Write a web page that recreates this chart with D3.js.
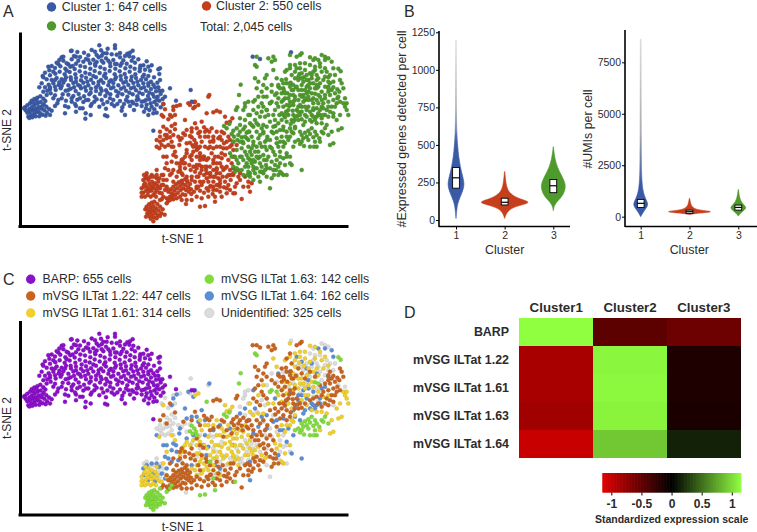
<!DOCTYPE html>
<html>
<head>
<meta charset="utf-8">
<script src="https://cdnjs.cloudflare.com/ajax/libs/d3/7.8.5/d3.min.js"></script>
<style>
  body { margin: 0; background: #fff; }
  text { font-family: "Liberation Sans", Arial, sans-serif; fill: #2b2b2b; }
</style>
</head>
<body>
<svg id="fig" width="757" height="532"></svg>
<script>
const barpC1 = [
  [75,322],[82,316],[90,310],[95,302],[103,297],[112,293],[121,289],[130,296],[136,303],[88,328],[96,321],[104,315],[113,310],[122,306],[131,313],[139,320],[147,327],[155,332],
  [82,338],[90,335],[98,330],[107,326],[116,321],[125,326],[133,331],[141,338],[150,345],[85,350],[93,345],[102,341],[111,336],[120,339],[128,344],[137,347],[118,349],[107,349],[97,352],[88,354],[77,331],[72,325],[100,308],[110,302],[126,319],[114,331],[92,326],[104,334],
  [298,136],[345,136],[323,146],[213,153],[232,156],[252,158],[275,150],[285,155],[398,152],[390,158],[382,161],[360,159],[335,163],[350,164],[310,160],[265,166],[303,151],
  [185,172],[215,178],[240,171],[258,177],[280,179],[296,172],[305,167],[318,175],[290,186],[270,190],[250,185],[228,191],[205,193],[190,182],[175,192],[340,180],[360,172],[370,181],[388,169],[395,182],[405,188],[415,178],[440,184],[380,191],[350,192],[330,189],[310,188],
  [135,218],[148,211],[165,204],[181,199],[196,206],[211,200],[224,207],[241,198],[255,201],[271,206],[286,197],[301,202],[314,207],[331,199],[346,206],[361,197],[376,205],[391,200],[404,206],[421,197],[435,209],[450,212],[475,208],[478,222],
  [150,226],[166,221],[179,215],[194,223],[209,216],[226,223],[239,214],[256,218],[269,222],[284,213],[299,219],[316,221],[329,213],[344,223],[359,214],[374,222],[389,215],[406,223],[419,214],[432,224],[445,228],[462,232],[480,240],[472,248],
  [140,238],[155,240],[170,234],[185,238],[198,232],[213,240],[228,234],[243,241],[258,233],[273,239],[288,232],[303,240],[318,234],[333,241],[348,232],[363,239],[378,233],[393,241],[408,234],[423,240],[438,238],[453,245],[125,250],[118,262],
  [146,254],[160,250],[176,255],[190,248],[205,256],[220,249],[234,255],[250,248],[265,256],[280,249],[295,255],[310,248],[325,256],[340,249],[355,256],[370,248],[385,255],[400,249],[415,256],[430,250],[445,257],[460,254],[475,262],[487,272],
  [130,275],[150,268],[167,270],[182,265],[197,272],[212,266],[227,273],[243,265],[258,272],[273,266],[288,273],[302,265],[318,271],[333,265],[348,273],[363,266],[378,272],[393,265],[408,271],[423,265],[438,272],[453,267],[468,274],[482,282],[495,290],
  [140,285],[165,286],[188,283],[205,284],[220,288],[236,282],[252,289],[268,283],[284,290],[300,282],[316,288],[331,283],[352,288],[367,283],[382,290],[398,283],[412,289],[428,282],[444,288],[458,282],[473,290],[488,297],
  [175,300],[198,302],[215,305],[232,299],[250,306],[265,300],[283,305],[305,300],[322,306],[340,300],[360,303],[378,300],[396,305],[415,298],[432,304],[448,298],[463,306],[478,302],[490,312],
  [165,318],[205,322],[228,318],[248,325],[272,318],[298,320],[318,326],[343,318],[367,322],[390,318],[410,314],[425,318],[440,314],[455,320],[470,314],[482,322],[448,330],[463,328],
  [228,335],[257,340],[272,345],[315,346],[322,349],[365,332],[375,345],[402,330],[432,335],[445,345],[256,356],[195,340],[470,338],
  [215,152],[178,180],[160,215],[128,228],[200,212],[222,168],[150,262],[345,145],[430,196],[455,196],[480,205],[510,265],[528,302],[575,305],[582,306],[460,392],
  [135,262],[142,272],[152,280],[160,295],[172,310],[185,295],[195,318],[215,295],[225,312],[240,295],[240,325],[258,300],[275,312],[290,298],[310,312],[330,295],[335,312],[352,312],[372,312],[385,305],[400,310],
  [165,240],[178,247],[195,240],[212,232],[228,245],[245,228],[262,245],[280,228],[296,245],[312,228],[328,245],[345,238],[362,228],[378,245],[395,230],[412,245],[428,230],[445,250],[465,262],[478,272],
  [165,260],[185,258],[205,270],[222,262],[240,258],[255,262],[272,278],[288,262],[305,272],[322,278],[340,262],[356,278],[372,262],[388,278],[402,262],[418,278],[432,262],[448,278],[462,290],[470,300],[438,300],[452,310],[425,305],[410,300],[438,325],[460,340],
  [200,190],[218,198],[235,182],[265,180],[285,192],[305,182],[325,182],[345,192],[365,190],[375,168],[400,172],[420,205],[445,200],[190,170],[228,170],[290,165],[320,160],[130,232],[145,200],[170,188],[155,198]
];
const unidC1 = [[572,270],[873,157]];
const vsg122C1 = [[758,170],[780,177]];

const vsg122C2 = [
  [505,575],[512,568],[520,560],[528,553],[536,547],[545,542],[555,538],[562,545],[570,552],[515,580],[523,572],[531,565],[540,558],[548,552],[557,555],[565,562],[573,568],[582,575],[510,590],[518,588],[526,584],[534,578],[542,570],[550,565],[558,570],[566,575],[574,582],[530,595],[540,590],[548,583],[556,585],[500,595],[490,590],[485,598],[505,603],[520,598],[590,565],[600,572],[612,578],[625,572],[638,582],[560,530],[548,525],[572,510],[580,500],[585,515],[568,495],[575,480],[555,505],
  [640,337],[650,332],[660,336],[612,382],[620,390],[628,395],[635,385],[665,395],[672,400],[540,490],[545,480],[520,510],[510,525],[600,470],[610,478],[605,500],[618,510],[630,530],[640,545],[650,520],[655,535],[668,530],[675,545],[685,555],[692,540],[700,525],[672,562],[690,570],[660,575],[680,580],[710,550],[725,597],[692,525],[700,580],[720,540],[735,530],[745,545],[620,565],[632,558],[590,590],[605,595],[490,380],[510,345],[500,405],[525,372],[550,400],[480,395],
  [655,555],[645,590],[665,590],[625,590],[600,545],[575,600],[560,600],[545,600],[520,545],[500,560],[530,530],[540,510],[555,490],[595,530],[620,520],[630,560],[650,570],[680,565],[705,560],[730,560],[755,550],[745,560],[590,450],[600,410],[575,395],[585,370],[640,420],[655,415],[670,445],[680,425],[695,435],[630,425]
];
const vsg122C3 = [
  [700,392],[710,385],[720,395],[730,388],[740,398],[715,405],[725,412],[708,330],[712,322],[748,395],[755,410],[760,425],[770,440],[780,430],[775,455],[790,465],[800,450],[810,440],[820,455],[805,470],[815,485],[825,495],[820,510],[822,525],[815,535],[765,520],[775,530],[780,545],[760,540],[790,520],[830,415],[840,390],[850,380],[860,395],[835,370],[825,360],[810,365],[845,360],[855,352],[870,385],[860,365],[790,395],[780,405],[770,395],[760,330],[770,340],[780,350],[775,290],[765,300],[785,310],[790,320],[800,330],[745,420],
  [880,270],[870,260],[860,250],[850,265],[845,280],[855,295],[870,305],[880,315],[890,330],[900,345],[895,360],[865,330],[880,345],[850,320],[985,260],[995,270],[1005,280],[990,285],[1000,300],[985,305],[995,320],[980,330],[1020,240],[1025,250],[1010,310],[770,170],[805,175],[820,170],[825,180],[815,185],[800,225],[795,235],[790,255],[770,265],[900,165],[890,170],[905,160],[870,195],[860,210],[875,225],[895,240],[905,255],[915,270],[930,250],[945,265],[960,290],[970,310],[845,240],[835,260],
  [840,265],[852,272],[862,280],[875,270],[888,262],[872,248],[858,238],[884,300],[868,318],[858,335],[878,332],[892,348],[905,358],[915,345],[884,360],[872,372],[850,345],[838,345],[826,378],[815,395],[802,410],[795,425],[785,440],[765,455],[755,445],[740,415],[728,425],[712,420],[702,410],[695,402],[780,470],[792,480],[798,495],[810,505],[828,510],[835,525],[770,505],[780,515],[750,530],[742,525],[760,510],
  [990,250],[1000,262],[1012,268],[975,285],[985,275],[1012,295],[1020,305],[1005,320],[990,335],[975,345],[965,320],[950,325],[940,330],[930,335],[1030,265],[1018,275],[955,345],[965,355],[985,350],[1000,340],[845,305],[835,295],[825,285],[815,275],[800,265],[785,275],[775,245],[765,235]
];
const vsg161C2 = [
  [425,565],[432,555],[440,560],[448,552],[456,545],[465,550],[472,558],[430,578],[438,572],[446,568],[454,572],[462,565],[470,570],[478,578],[435,590],[425,590],[443,585],[452,590],[460,585],[468,590],[445,540],[436,535],[470,535],[555,470],[548,478],[560,460],[550,490],[540,500],
  [598,495],[605,510],[612,525],[620,535],[600,520],[590,530],[585,545],[610,545],[625,545],[630,520],[640,510],[650,505],[660,490],[655,470],[665,475],[675,465],[685,480],[695,490],[670,510],[680,500],[640,490],[630,500],[620,480],[612,470],[645,470],[635,460],[680,445],[690,440],[700,450],[672,430],[660,440],[650,555],[595,315],[585,320],[690,365],[697,355],[675,350],[680,368],[605,425],[595,445],[545,545],[515,440],[490,350],[478,445],
  [600,395],[615,410],[570,470],[580,455],[590,470],[600,460],[625,445],[650,440],[665,420],[685,410],[700,425],[710,435],[625,410],[640,410],[650,395],[590,495],[575,540],[590,560],[605,555],[640,530],[665,500],[700,505],[715,530],[660,560],[685,525],[425,578],[435,550],[455,560],[485,580],[500,565],[490,525],[500,490],[525,455]
];
const vsg161C3 = [
  [720,470],[730,480],[715,490],[705,470],[740,465],[750,480],[735,500],[760,500],[750,455],[725,445],[710,450],[745,440],[730,430],[700,500],[800,505],[850,525],[845,520],[870,470],[855,430],[870,410],[880,400],[850,300],[860,315],[845,340],[835,320],[875,360],[885,380],[855,280],[870,285],[885,290],[900,285],[915,300],[925,320],[895,300],[905,270],[920,260],[935,280],[950,240],[965,215],[945,210],[930,220],[915,210],[900,205],[885,215],[870,165],[855,215],[1040,330],[1045,345],[1035,320],[1015,390],[1025,385],[1000,430],[990,435],[790,290],[830,235],[820,210],
  [885,235],[898,222],[912,232],[925,240],[940,250],[955,260],[970,240],[985,232],[975,205],[960,190],[945,175],[930,172],[915,190],[900,190],[885,195],[870,205],[880,255],[895,270],[910,285],[925,290],[940,295],[955,310],[970,325],[985,320],[915,320],[905,335],[920,350],[935,365],[950,370],[965,370],[880,305],[865,345],[875,395],[860,410],[845,410],[835,440],[825,465],[840,470],[855,495],[830,480],[795,510],[785,500],[765,485],[775,475],[755,490],[745,500],[715,510],[705,515],[695,470],[690,460],[720,425],[735,410],[750,370],[760,380],[775,375],[790,375],[805,345],[820,345],[775,320],[750,345],[1030,310],[1020,345],[1010,360],[980,375],[995,395],[960,425],[1040,310]
];
const vsg163C2 = [
  [440,620],[447,613],[455,608],[463,605],[472,612],[480,620],[488,628],[436,628],[444,630],[452,622],[460,618],[468,625],[476,632],[484,640],[494,644],[442,640],[450,636],[458,632],[466,640],[474,646],[448,648],[456,644],[462,652],[470,655],[460,664],[452,656],[438,650],[480,648],[465,630],[455,630],
  [510,600],[500,610],[480,600],[515,590],[600,620],[615,618],[645,605],[705,580],[640,570],[630,520],[575,412],[583,420],[588,430],[578,436],[570,428],[590,440],[620,340]
];
const vsg163C3 = [
  [935,385],[925,392],[945,395],[915,398],[905,405],[930,402],[950,405],[965,395],[975,385],[920,410],[940,412],[958,415],[910,415],[895,420],[885,425],[925,420],[945,425],[900,432],[912,438],[930,440],[950,440],[970,400],[985,405],[942,440],[905,425],
  [672,378],[680,385],[688,372],[722,254],[717,285],[765,195],[770,200],[815,305],[810,310],[830,310],[945,281],[955,285],[1015,206],[1022,214]
];
const vsg164C2 = [
  [432,560],[430,540],[440,530],[455,525],[470,525],[478,535],[445,575],[465,578],[485,555],[500,540],[515,520],[530,490],[528,470],[538,435],[520,465],[515,485],[495,505],[490,470],[540,420],[530,318],[520,330],[515,350],[575,385],[565,310],[585,305],[628,285],[610,470],[615,395],[605,365],[625,475],[645,530],[750,575],[595,400],[560,390],
  [580,325],[555,360],[590,385],[470,440],[500,470],[560,450],[580,440],[615,440],[640,425],[660,410],[690,420],[700,470],[620,500],[660,540],[460,555],[450,565],[495,570],[505,510],[535,515],[575,530]
];
const vsg164C3 = [
  [875,495],[905,510],[850,425],[760,435],[860,460],[820,400],[885,350],[895,335],[905,320],[920,330],[935,345],[950,350],[925,300],[940,310],[960,330],[975,295],[920,240],[935,225],[955,180],[975,180],[995,185],[870,315],[860,340],[885,385],[900,395],[910,375],[940,350],[945,360],[760,305],[735,360],[765,360],[825,330],[835,255],[850,390],[800,380],[800,420],
  [905,220],[890,205],[925,275],[910,305],[895,320],[930,360],[915,365],[960,345],[985,265],[1000,205],[965,300],[950,255],[880,365],[865,420],[840,425],[830,395],[775,415],[745,395],[720,375],[700,425],[785,385],[880,440],[835,500],[750,520],[870,250]
];
const unidC2 = [
  [440,520],[432,525],[450,532],[475,545],[480,565],[490,540],[485,525],[490,555],[470,510],[485,435],[495,440],[490,420],[500,415],[480,425],[520,405],[535,410],[515,425],[510,395],[520,320],[625,290],[560,540],[558,612],[640,480],[650,490],[660,520],[675,505],[690,510],[700,520],[665,460],[640,445],[630,440],[600,440],[560,430],
  [490,312],[495,328],[485,345],[525,345],[505,358],[540,315],[570,315],[515,378],[500,388],[525,388],[495,405],[510,412],[545,415],[555,405],[570,408],[505,435],[470,420],[480,410],[520,440],[650,510],[615,500],[590,505],[600,480],[575,465],[680,530],[710,510],[720,520],[545,520],[595,560],[640,560],[660,550],[475,560],[460,530]
];
const unidC3 = [
  [810,565],[725,470],[735,455],[745,475],[755,465],[710,480],[725,510],[745,515],[770,470],[800,480],[780,490],[840,490],[860,525],[735,320],[745,305],[735,310],[730,330],[890,260],[905,235],[920,225],[935,235],[950,225],[960,250],[975,170],[985,175],[965,165],[940,180],[930,195],[945,200],[960,200],[980,215],[990,225],[895,230],[905,290],[920,280],[935,300],[950,300],[965,275],[975,260],[1015,290],[1035,295],[790,400],[830,430],[820,380],[815,445],[850,440],[860,470],[800,330],[810,310],[795,350],
  [910,245],[925,255],[940,215],[955,235],[975,230],[985,245],[1000,245],[1005,225],[950,265],[930,265],[915,295],[900,315],[940,325],[955,340],[970,345],[1000,350],[880,285],[865,295],[850,250],[830,280],[815,255],[800,290],[785,335],[770,370],[755,375],[745,345],[720,355],[735,380],[795,440],[810,420],[840,455],[850,475],[760,480],[740,490],[730,525],[710,505],[785,515],[800,530],[840,515],[870,490]
];

const clusterColors = ['#3a5aa6', '#c53f1d', '#4f9a2c'];
const markerNames = ['BARP', 'mVSG ILTat 1.22', 'mVSG ILTat 1.61', 'mVSG ILTat 1.63', 'mVSG ILTat 1.64', 'Unidentified'];
const markerCounts = [655, 447, 314, 142, 162, 325];
const markerColors = ['#8a10c9', '#c9641f', '#efd02f', '#7fdc3b', '#5b8ed6', '#dcdcdc'];

// violin profiles: value on the axis and half width in px
const genesValues = [
  [[10,0],[90,1],[130,2.7],[180,6],[235,8.7],[290,6.7],[355,4.3],[420,2.7],[490,1.7],[580,.8],[690,.4],[1200,.15]],
  [[10,0],[45,1.7],[78,6],[100,16.7],[118,26.7],[138,16],[165,7.3],[200,2.7],[255,1],[322,.2]],
  [[62,0],[100,1],[133,5.3],[167,10],[222,12.7],[267,10.7],[322,6],[378,2.7],[433,1],[488,.1]]
];
const genesBoxes = [[212,281,350],[100,118,145],[182,228,270]];
const umiValues = [
  [[0,0],[243,2.7],[486,6.7],[648,7.3],[890,4.7],[1215,2.3],[1780,1],[2750,.7],[4050,.6],[8620,.4]],
  [[110,0],[180,10],[243,26.7],[320,8.3],[450,2.7],[650,1],[890,.2]],
  [[30,0],[160,2],[320,6],[450,8.3],[610,4.7],[810,2],[1050,.8],[1320,.2]]
];
const umiBoxes = [[450,650,840],[160,243,320],[320,450,565]];
const genesTicks = [0, 250, 500, 750, 1000, 1250];
const umiTicks = [0, 2500, 5000, 7500];

// panel D
const heatRows = ['BARP', 'mVSG ILTat 1.22', 'mVSG ILTat 1.61', 'mVSG ILTat 1.63', 'mVSG ILTat 1.64'];
const heatCols = ['Cluster1', 'Cluster2', 'Cluster3'];
const heatValues = [
  [1.15, -0.48, -0.56],
  [-0.86, 1.11, -0.16],
  [-0.86, 1.12, -0.16],
  [-0.82, 1.1, -0.14],
  [-1.03, 0.9, 0.15]
];
const scaleTicks = [-1, -0.5, 0, 0.5, 1];

const svg = d3.select('#fig');

function label(x, y, str, size, opts = {}) {
  const t = svg.append('text')
      .attr('x', x).attr('y', y)
      .attr('font-size', size)
      .attr('font-weight', opts.bold ? 'bold' : null)
      .attr('text-anchor', opts.anchor || 'start')
      .text(str);
  if (opts.rotate) t.attr('transform', `rotate(-90,${x},${y})`);
  return t;
}

const tx = d3.scaleLinear().domain([0, 1110]).range([0, 370]);
const ty = d3.scaleLinear().domain([0, 700]).range([0, 233.3]);

function tsneAxes(offset) {
  const g = svg.append('g').attr('transform', `translate(0,${offset})`);
  const ax = d3.scaleLinear().domain([18, 348]).range([18, 348]);
  const ay = d3.scaleLinear().domain([32, 227]).range([32, 227]);
  g.append('g').attr('transform', 'translate(20,0)')
      .call(d3.axisLeft(ay).tickValues([]).tickSizeOuter(0))
      .select('.domain').attr('stroke', '#000').attr('stroke-width', 3);
  g.append('g').attr('transform', 'translate(0,226)')
      .call(d3.axisBottom(ax).tickValues([]).tickSizeOuter(0))
      .select('.domain').attr('stroke', '#000').attr('stroke-width', 3);
  return g;
}

function drawCells(g, cells, fill) {
  g.append('g').selectAll('circle')
      .data(cells)
    .join('circle')
      .attr('cx', d => tx(d[0]))
      .attr('cy', d => ty(d[1]))
      .attr('r', 2)
      .attr('fill', fill)
      .attr('stroke', d3.color(fill).darker(0.5))
      .attr('stroke-width', 0.4);
}

// panel A
const panelA = tsneAxes(0);
drawCells(panelA, barpC1.concat(unidC1, vsg122C1), clusterColors[0]);
drawCells(panelA, [].concat(vsg122C2, vsg161C2, vsg163C2, vsg164C2, unidC2), clusterColors[1]);
drawCells(panelA, [].concat(vsg122C3, vsg161C3, vsg163C3, vsg164C3, unidC3), clusterColors[2]);

label(3, 17, 'A', 16);
[[51.5, 7, 'Cluster 1: 647 cells', 61.7, 11, 0],
 [206.5, 6, 'Cluster 2: 550 cells', 216, 10, 1],
 [51.5, 26, 'Cluster 3: 848 cells', 61.7, 30.5, 2]].forEach(d => {
  svg.append('circle').attr('cx', d[0]).attr('cy', d[1]).attr('r', 4.7).attr('fill', clusterColors[d[5]]);
  label(d[3], d[4], d[2], 12.4);
});
label(200, 30.5, 'Total: 2,045 cells', 12.4);
label(182.7, 243, 't-SNE 1', 12, {anchor: 'middle'});
label(10.5, 130, 't-SNE 2', 12, {anchor: 'middle', rotate: true});

// panel C
const panelC = tsneAxes(288.5);
drawCells(panelC, unidC1.concat(unidC2, unidC3), markerColors[5]);
drawCells(panelC, vsg164C2.concat(vsg164C3), markerColors[4]);
drawCells(panelC, vsg161C2.concat(vsg161C3), markerColors[2]);
drawCells(panelC, vsg122C1.concat(vsg122C2, vsg122C3), markerColors[1]);
drawCells(panelC, vsg163C2.concat(vsg163C3), markerColors[3]);
drawCells(panelC, barpC1, markerColors[0]);

label(3, 285, 'C', 16);
const legendSpots = [[30.7, 279.3], [30.7, 296], [30.7, 313], [209.3, 279.3], [209.3, 296], [209.3, 313]];
markerNames.forEach((name, i) => {
  const [cx, cy] = legendSpots[i];
  svg.append('circle').attr('cx', cx).attr('cy', cy).attr('r', 4.7)
      .attr('fill', markerColors[i])
      .attr('stroke', i === 5 ? '#bbb' : 'none').attr('stroke-width', 0.5);
  label(cx + 11.8, cy + 4, `${name}: ${markerCounts[i]} cells`, 12.3);
});
label(182.7, 530.5, 't-SNE 1', 12, {anchor: 'middle'});
label(10.5, 418, 't-SNE 2', 12, {anchor: 'middle', rotate: true});

// panel B
function violinPanel(cfg) {
  const x = d3.scalePoint().domain([1, 2, 3]).range(cfg.cats);
  const y = d3.scaleLinear().domain(cfg.domain).range(cfg.range);
  const g = svg.append('g');

  const axisY = g.append('g').attr('transform', `translate(${cfg.left},0)`)
      .call(d3.axisLeft(y).tickValues(cfg.ticks).tickSize(3).tickSizeOuter(0).tickFormat(d3.format('d')));
  axisY.select('.domain').attr('d', `M0,${cfg.top}V227`).attr('stroke-width', 1.6);
  axisY.selectAll('text').attr('font-size', 10.5).attr('x', -4);
  axisY.selectAll('line').attr('stroke-width', 1);

  const axisX = g.append('g').attr('transform', 'translate(0,226.5)')
      .call(d3.axisBottom(x).tickSize(3).tickPadding(2));
  axisX.select('.domain').attr('d', `M${cfg.left},0H${cfg.right}`).attr('stroke-width', 1.6);
  axisX.selectAll('text').attr('font-size', 10.5);

  const defs = svg.append('defs');
  cfg.values.forEach((profile, i) => {
    const color = clusterColors[i];
    const cx = x(i + 1);
    const area = d3.area()
        .y(d => y(d[0]))
        .x0(d => cx - d[1])
        .x1(d => cx + d[1])
        .curve(d3.curveBasis);

    let fill = color;
    if (i === 0) {
      // the long tail of cluster 1 fades out towards the top
      const id = `${cfg.id}-fade`;
      const grad = defs.append('linearGradient').attr('id', id)
          .attr('gradientUnits', 'userSpaceOnUse')
          .attr('x1', 0).attr('x2', 0)
          .attr('y1', y(profile[profile.length - 1][0])).attr('y2', y(cfg.fadeAt));
      grad.append('stop').attr('offset', 0).attr('stop-color', '#d8d8d8');
      grad.append('stop').attr('offset', 0.65).attr('stop-color', '#a9a9ae');
      grad.append('stop').attr('offset', 1).attr('stop-color', color);
      fill = `url(#${id})`;
    }
    g.append('path').datum(profile)
        .attr('d', area)
        .attr('fill', fill)
        .attr('stroke', fill)
        .attr('stroke-width', 0.6);

    const b = cfg.boxes[i];
    g.append('rect')
        .attr('x', cx - 3.4).attr('width', 6.8)
        .attr('y', y(b[2])).attr('height', y(b[0]) - y(b[2]))
        .attr('fill', '#fff').attr('stroke', '#000').attr('stroke-width', 0.9);
    g.append('line')
        .attr('x1', cx - 3.4).attr('x2', cx + 3.4)
        .attr('y1', y(b[1])).attr('y2', y(b[1]))
        .attr('stroke', '#000').attr('stroke-width', 1.2);
  });
}

violinPanel({
  id: 'genes', left: 439, right: 570, top: 31, cats: [456, 553.3],
  domain: [0, 1250], range: [220, 32.3], ticks: genesTicks,
  values: genesValues, boxes: genesBoxes, fadeAt: 500
});
violinPanel({
  id: 'umi', left: 625, right: 757, top: 30, cats: [640.7, 738.3],
  domain: [0, 7500], range: [216.7, 62.3], ticks: umiTicks,
  values: umiValues, boxes: umiBoxes, fadeAt: 1600
});

label(404, 16.5, 'B', 16);
label(406, 129, '#Expressed genes detected per cell', 12.4, {anchor: 'middle', rotate: true});
label(592, 129, '#UMIs per cell', 12.4, {anchor: 'middle', rotate: true});
label(504.7, 253.5, 'Cluster', 12.4, {anchor: 'middle'});
label(689.3, 253.5, 'Cluster', 12.4, {anchor: 'middle'});

// panel D
const heatColor = d3.scaleLinear().domain([-1.15, 0, 1.15]).range(['#e00000', '#000000', '#90ff40']);
const hx = d3.scaleBand().domain(heatCols).range([519.3, 740.7]);
const hy = d3.scaleBand().domain(heatRows).range([318.3, 457.7]);

heatRows.forEach((row, r) => {
  heatCols.forEach((col, c) => {
    svg.append('rect')
        .attr('x', hx(col)).attr('y', hy(row))
        .attr('width', hx.bandwidth()).attr('height', hy.bandwidth())
        .attr('shape-rendering', 'crispEdges')
        .attr('fill', heatColor(heatValues[r][c]));
  });
  label(509, hy(row) + hy.bandwidth() / 2 + 4, row, 12.4, {bold: true, anchor: 'end'});
});
heatCols.forEach(col => label(hx(col) + hx.bandwidth() / 2, 311.7, col, 13.3, {bold: true, anchor: 'middle'}));
label(404, 318, 'D', 16);

const bar = d3.scaleLinear().domain([-1.15, 1.15]).range([602.3, 740.8]);
const barSteps = d3.range(-1.15, 1.15, 0.01);
svg.append('g').selectAll('rect')
    .data(barSteps)
  .join('rect')
    .attr('x', d => bar(d)).attr('y', 473)
    .attr('width', bar(0.02) - bar(0)).attr('height', 19.5)
    .attr('fill', d => heatColor(d));

const barAxis = svg.append('g').attr('transform', 'translate(0,492.5)')
    .call(d3.axisBottom(bar).tickValues(scaleTicks).tickSize(3).tickPadding(4).tickFormat(d => d));
barAxis.select('.domain').remove();
barAxis.selectAll('text').attr('font-size', 12).attr('font-weight', 'bold');

label(671.7, 523, 'Standardized expression scale', 10.5, {bold: true, anchor: 'middle'});
</script>
</body>
</html>
